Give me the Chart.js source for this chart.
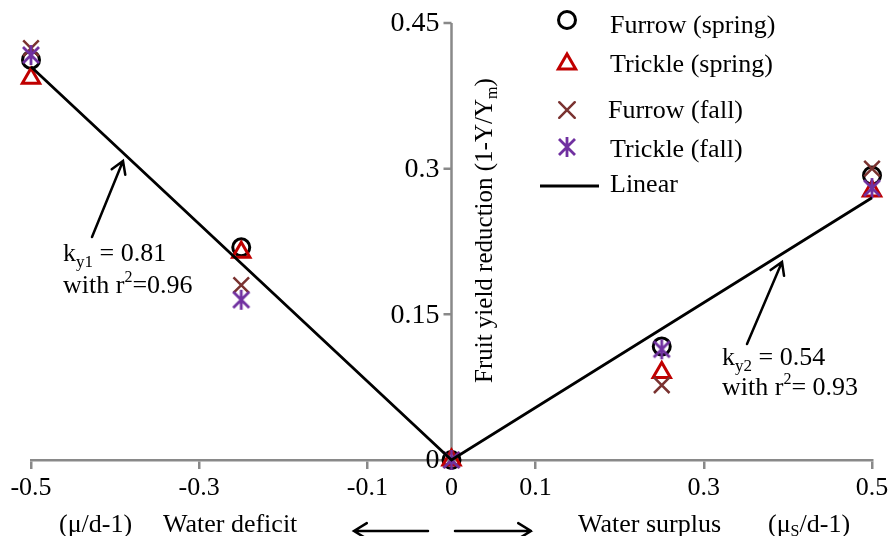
<!DOCTYPE html>
<html>
<head>
<meta charset="utf-8">
<script src="https://cdn.jsdelivr.net/npm/chart.js@4"></script>
<style>
  body { margin: 0; background: #fff; }
</style>
</head>
<body>
<canvas id="yieldChart" width="889" height="536"></canvas>
<script>
// data
const xLevels = [-0.5, -0.25, 0, 0.25, 0.5];
const furrowSpring = [0.412, 0.219, 0, 0.117, 0.293];
const trickleSpring = [0.393, 0.214, 0, 0.09, 0.277];
const furrowFall = [0.424, 0.18, 0, 0.077, 0.3];
const trickleFall = [0.417, 0.165, 0, 0.114, 0.28];
const linearX = [-0.5, 0, 0.5];
const linearY = [0.405, 0, 0.27];

const xTicks = [-0.5, -0.3, -0.1, 0, 0.1, 0.3, 0.5];
const yTicks = [0, 0.15, 0.3, 0.45];
const seriesNames = ['Furrow (spring)', 'Trickle (spring)', 'Furrow (fall)', 'Trickle (fall)', 'Linear'];

const FONT = '"Liberation Serif", "Times New Roman", serif';
const AXIS_GREY = '#898989';
const RED = '#c00000';
const BROWN = '#7a3230';
const PURPLE = '#7030a0';

Chart.defaults.font.family = FONT;

// asterisk marker (X plus vertical bar)
function makeAsterisk() {
  const c = document.createElement('canvas');
  c.width = 24; c.height = 24;
  const g = c.getContext('2d');
  g.strokeStyle = PURPLE;
  g.lineWidth = 2.8;
  g.beginPath();
  g.moveTo(4, 4); g.lineTo(20, 20);
  g.moveTo(20, 4); g.lineTo(4, 20);
  g.moveTo(12, 2); g.lineTo(12, 22);
  g.stroke();
  return c;
}
const asterisk = makeAsterisk();

const pts = (xs, ys) => xs.map((x, i) => ({ x: x, y: ys[i] }));

const markerStyles = [
  { pointStyle: 'circle', radius: 8.5, color: '#000', width: 3 },
  { pointStyle: 'triangle', radius: 10, color: RED, width: 3 },
  { pointStyle: 'crossRot', radius: 11, color: BROWN, width: 2.5 },
  { pointStyle: asterisk, radius: 10, color: PURPLE, width: 2.8 }
];

function pointSet(label, ys, m, order) {
  return {
    label: label,
    data: pts(xLevels, ys),
    showLine: false,
    clip: false,
    pointStyle: m.pointStyle,
    pointRadius: m.radius,
    pointBorderWidth: m.width,
    borderColor: m.color,
    backgroundColor: 'rgba(0,0,0,0)',
    order: order
  };
}

// y axis sits at x = 0, drawn from the y scale
const centerAxis = {
  id: 'centerAxis',
  beforeDatasetsDraw(chart) {
    const { ctx, scales: { x, y } } = chart;
    const x0 = x.getPixelForValue(0);
    ctx.save();
    ctx.strokeStyle = AXIS_GREY;
    ctx.lineWidth = 2.5;
    ctx.beginPath();
    ctx.moveTo(x0, y.getPixelForValue(yTicks[yTicks.length - 1]));
    ctx.lineTo(x0, y.getPixelForValue(0));
    yTicks.forEach(v => {
      const py = y.getPixelForValue(v);
      ctx.moveTo(x0 - 8, py);
      ctx.lineTo(x0, py);
    });
    ctx.stroke();
    ctx.fillStyle = '#000';
    ctx.font = '28px ' + FONT;
    ctx.textAlign = 'right';
    ctx.textBaseline = 'middle';
    yTicks.forEach(v => {
      ctx.fillText(String(v), x0 - 12, y.getPixelForValue(v) + 1);
    });

    // axis title, rotated
    ctx.translate(x0 + 40, 383);
    ctx.rotate(-Math.PI / 2);
    ctx.textAlign = 'left';
    ctx.textBaseline = 'alphabetic';
    ctx.font = '25px ' + FONT;
    const main = 'Fruit yield reduction (1-Y/Y';
    ctx.fillText(main, 0, 0);
    let w = ctx.measureText(main).width;
    ctx.font = '16px ' + FONT;
    ctx.fillText('m', w, 5);
    w += ctx.measureText('m').width;
    ctx.font = '25px ' + FONT;
    ctx.fillText(')', w, 0);
    ctx.restore();
  }
};

function drawArrow(ctx, x1, y1, x2, y2, head) {
  const a = Math.atan2(y2 - y1, x2 - x1);
  ctx.beginPath();
  ctx.moveTo(x1, y1);
  ctx.lineTo(x2, y2);
  ctx.moveTo(x2 - head * Math.cos(a - 0.55), y2 - head * Math.sin(a - 0.55));
  ctx.lineTo(x2, y2);
  ctx.lineTo(x2 - head * Math.cos(a + 0.55), y2 - head * Math.sin(a + 0.55));
  ctx.stroke();
}

// text runs with sub/superscripts: [text, size, dy]
function drawRuns(ctx, runs, x, y) {
  runs.forEach(r => {
    ctx.font = r[1] + 'px ' + FONT;
    ctx.fillText(r[0], x, y + r[2]);
    x += ctx.measureText(r[0]).width;
  });
}

const notes = {
  id: 'notes',
  afterDraw(chart) {
    const ctx = chart.ctx;
    ctx.save();
    ctx.fillStyle = '#000';
    ctx.strokeStyle = '#000';
    ctx.lineWidth = 2.5;
    ctx.lineCap = 'round';
    ctx.textAlign = 'left';
    ctx.textBaseline = 'alphabetic';

    // slope annotations
    drawArrow(ctx, 92, 237, 123, 161, 14);
    drawRuns(ctx, [['k', 26, 0], ['y1', 17, 6], [' = 0.81', 26, 0]], 63, 261);
    drawRuns(ctx, [['with r', 26, 0], ['2', 16, -11], ['=0.96', 26, 0]], 63, 293);

    drawArrow(ctx, 747, 344, 782, 262, 14);
    drawRuns(ctx, [['k', 26, 0], ['y2', 17, 6], [' = 0.54', 26, 0]], 722, 365);
    drawRuns(ctx, [['with r', 26, 0], ['2', 16, -11], ['= 0.93', 26, 0]], 722, 395);

    // bottom labels
    drawRuns(ctx, [['(\u03bc/d-1)', 26, 0]], 59, 532);
    drawRuns(ctx, [['Water deficit', 26, 0]], 163, 532);
    drawRuns(ctx, [['Water surplus', 26, 0]], 578, 532);
    drawRuns(ctx, [['(\u03bc', 26, 0], ['S', 16, 4], ['/d-1)', 26, 0]], 768, 532);
    drawArrow(ctx, 428, 531, 354, 531, 15);
    drawArrow(ctx, 455, 531, 531, 531, 15);

    // legend
    const rows = [20, 64, 110, 147, 186];
    const baselines = [33, 72, 118, 157, 192];
    markerStyles.forEach((m, i) => {
      ctx.strokeStyle = m.color;
      ctx.fillStyle = 'rgba(0,0,0,0)';
      ctx.lineWidth = m.width;
      Chart.helpers.drawPoint(ctx, { pointStyle: m.pointStyle, radius: m.radius, borderWidth: m.width, rotation: 0 }, 567, rows[i]);
    });
    ctx.strokeStyle = '#000';
    ctx.lineWidth = 3;
    ctx.lineCap = 'butt';
    ctx.beginPath();
    ctx.moveTo(540, rows[4]);
    ctx.lineTo(599, rows[4]);
    ctx.stroke();
    ctx.fillStyle = '#000';
    ctx.font = '26px ' + FONT;
    seriesNames.forEach((s, i) => ctx.fillText(s, i === 2 ? 608 : 610, baselines[i]));
    ctx.restore();
  }
};

new Chart(document.getElementById('yieldChart'), {
  type: 'scatter',
  data: {
    datasets: [
      pointSet(seriesNames[0], furrowSpring, markerStyles[0], 4),
      pointSet(seriesNames[1], trickleSpring, markerStyles[1], 3),
      pointSet(seriesNames[2], furrowFall, markerStyles[2], 2),
      pointSet(seriesNames[3], trickleFall, markerStyles[3], 1),
      {
        label: seriesNames[4],
        data: pts(linearX, linearY),
        showLine: true,
        clip: false,
        borderColor: '#000',
        borderWidth: 2.8,
        pointRadius: 0,
        order: 0
      }
    ]
  },
  options: {
    responsive: false,
    animation: false,
    devicePixelRatio: 1,
    layout: { padding: { left: 31, right: 17, top: 23, bottom: 0 } },
    plugins: { legend: { display: false }, tooltip: { enabled: false } },
    scales: {
      x: {
        type: 'linear',
        min: -0.5,
        max: 0.5,
        afterBuildTicks: s => { s.ticks = xTicks.map(v => ({ value: v })); },
        afterFit: s => { s.height = 76; s.paddingLeft = 0; s.paddingRight = 0; },
        grid: { drawOnChartArea: false, drawTicks: true, tickLength: 9, color: AXIS_GREY, lineWidth: 2.5 },
        border: { color: AXIS_GREY, width: 2.5 },
        ticks: {
          color: '#000',
          padding: 4,
          maxRotation: 0,
          autoSkip: false,
          font: { size: 26 },
          callback: v => String(v)
        }
      },
      y: {
        display: false,
        min: 0,
        max: 0.45
      }
    }
  },
  plugins: [centerAxis, notes]
});
</script>
</body>
</html>
